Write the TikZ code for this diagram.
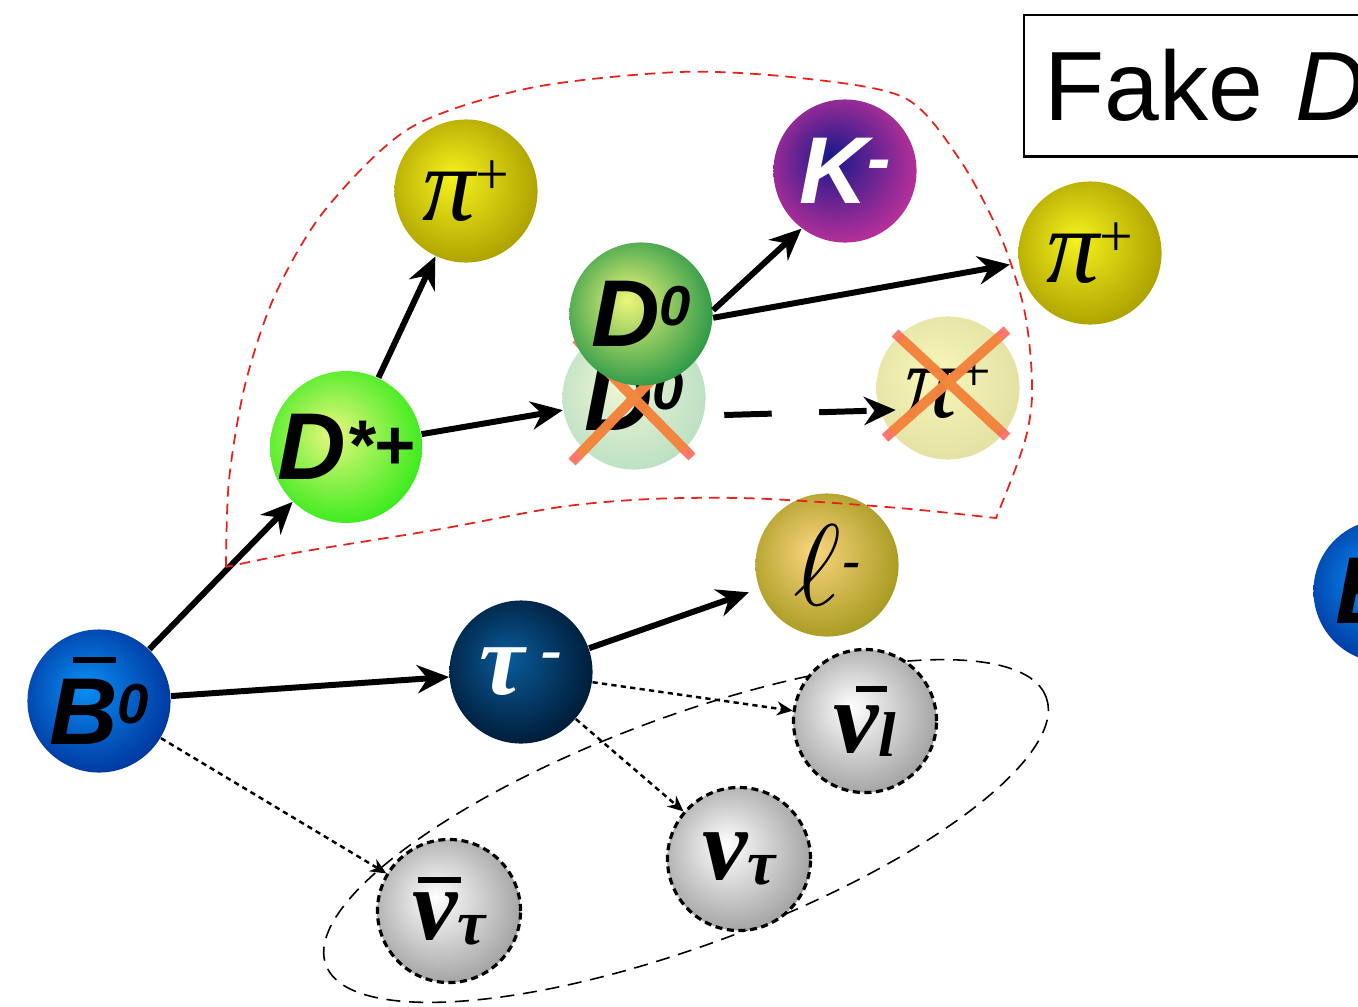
\documentclass[tikz,border=0pt]{standalone}
\usepackage{fix-cm}
\usepackage{fontspec}
\setmainfont{Liberation Sans}
\newfontfamily\greekserif{Liberation Serif}
\definecolor{bmin}{HTML}{0A8FF5}
\definecolor{bmout}{HTML}{0038A0}
\definecolor{dsin}{HTML}{E8F77E}
\definecolor{dsout}{HTML}{3CEB1E}
\definecolor{piin}{HTML}{F5F21E}
\definecolor{piout}{HTML}{ADA200}
\definecolor{d0in}{HTML}{EEF57A}
\definecolor{d0out}{HTML}{2E9A48}
\definecolor{kin}{HTML}{17188A}
\definecolor{kout}{HTML}{B8309A}
\definecolor{lin}{HTML}{FAD57E}
\definecolor{lout}{HTML}{A89B22}
\definecolor{tauin}{HTML}{0A5C9C}
\definecolor{tauout}{HTML}{001C38}
\definecolor{nugray}{HTML}{A3A3A3}
\definecolor{dfin}{HTML}{EFF6D2}
\definecolor{dfout}{HTML}{BCE0C4}
\definecolor{pfin}{HTML}{F8F6B8}
\definecolor{pfout}{HTML}{E4E1A4}
\definecolor{vetoorange}{HTML}{F28A3A}
\definecolor{vetored}{HTML}{FF5F50}
\definecolor{regionred}{HTML}{E8221A}
\usepackage{tikz}
\usetikzlibrary{arrows.meta, shapes.geometric}
\colorlet{ballin}{white}
\colorlet{ballout}{gray}
\pgfdeclareradialshading[ballin,ballout]{sphere}{\pgfqpoint{-5bp}{5bp}}{color(0bp)=(ballin); color(28bp)=(ballout); color(50bp)=(ballout)}
\newcommand{\supsym}[1]{\raisebox{6pt}{\fontsize{16}{16}\selectfont #1}}
\newcommand{\barsym}[3]{\rlap{\hspace{#1}\raisebox{#2}{\rule{#3}{0.06em}}}}

\begin{document}
\begin{tikzpicture}[
  x=0.01cm, y=-0.01cm,
  particle/.style 2 args={circle, minimum size=1.43cm, inner sep=0pt,
    /utils/exec={\colorlet{ballin}{#1}\colorlet{ballout}{#2}}, shading=sphere,
    font=\fontsize{27}{27}\selectfont\bfseries\itshape},
  neutrino/.style={particle={white}{nugray}, draw, line width=0.9pt, dash pattern=on 2pt off 1.3pt,
    font=\fontsize{29}{29}\selectfont\greekserif\bfseries\itshape},
  pionlabel/.style={font=\fontsize{30}{30}\selectfont\greekserif\itshape},
  decay/.style={line width=1.7pt, -{Stealth[length=9pt, width=8pt]}},
  missing/.style={line width=0.7pt, dash pattern=on 1.5pt off 1.2pt, -{Stealth[length=4.5pt, width=4pt]}},
  veto/.style={line width=2.8pt, vetoorange, opacity=0.85, shorten <=0.1cm, shorten >=0.1cm},
  vetoend/.style={line width=2.8pt, vetored, opacity=0.85},
  region/.style={regionred, line width=0.5pt, dash pattern=on 3pt off 2pt},
]
\useasboundingbox (0,0) rectangle (1358,1006);
\clip (0,0) rectangle (1358,1006);

% Neutrino group
\node[draw, ellipse, minimum width=7.68cm, minimum height=2.28cm, rotate=20.4, line width=0.45pt, dash pattern=on 4pt off 2.5pt] (nugroup) at (686,831) {};

% Particles
\node[particle={bmin}{bmout}] (b0) at (99,701) {\barsym{0.25em}{0.86em}{0.46em}B\supsym{0}};
\node[particle={bmin}{bmout}] (btag) at (1385,591) {B\supsym{0}};
\node[particle={dsin}{dsout}] (dstar) at (346,447) {D\raisebox{3pt}{\fontsize{20}{20}\selectfont*+}};
\node[particle={piin}{piout}, pionlabel] (pitop) at (466,191) {π\raisebox{7.5pt}{\fontsize{17}{17}\selectfont\upshape +}};
\node[particle={kin}{kout}, text=white] (kminus) at (845,171) {K\raisebox{6pt}{\fontsize{20}{20}\selectfont -}};
\node[particle={piin}{piout}, pionlabel] (piright) at (1090,253) {π\raisebox{7.5pt}{\fontsize{17}{17}\selectfont\upshape +}};
\node[particle={lin}{lout}] (lep) at (827,565) {\mdseries{\fontsize{33}{33}\selectfont$\ell$}\raisebox{7pt}{\fontsize{16}{16}\selectfont -}};
\node[particle={tauin}{tauout}, text=white] (tau) at (521,672) {{\fontsize{29}{29}\selectfont\greekserif τ}\,\raisebox{7pt}{\fontsize{18}{18}\selectfont\greekserif -}};
\node[neutrino] (nubarl) at (865,721) {\barsym{0.22em}{0.6em}{0.3em}ν\lower1pt\hbox{\fontsize{18}{18}\selectfont l}};
\node[neutrino] (nutau) at (739,859) {ν\lower1.5pt\hbox{\fontsize{18}{18}\selectfont τ}};
\node[neutrino] (nubartau) at (449,911) {\barsym{0.06em}{0.55em}{0.42em}ν\lower1.5pt\hbox{\fontsize{18}{18}\selectfont τ}};

% Fake candidates
\node[particle={dfin}{dfout}] (dfake) at (634,398) {D\supsym{0}};
\node[particle={pfin}{pfout}, pionlabel] (pifake) at (948,388) {π\raisebox{7.5pt}{\fontsize{17}{17}\selectfont\upshape +}};
\draw[vetoend] ([shift={(-62,64)}]dfake.center) -- ([shift={(62,-64)}]dfake.center);
\draw[vetoend] ([shift={(58,59)}]dfake.center) -- ([shift={(-58,-59)}]dfake.center);
\draw[veto] ([shift={(-62,64)}]dfake.center) -- ([shift={(62,-64)}]dfake.center);
\draw[veto] ([shift={(58,59)}]dfake.center) -- ([shift={(-58,-59)}]dfake.center);
\draw[vetoend] ([shift={(-63,50)}]pifake.center) -- ([shift={(59,-58)}]pifake.center);
\draw[vetoend] ([shift={(-53,-55)}]pifake.center) -- ([shift={(59,49)}]pifake.center);
\draw[veto] ([shift={(-63,50)}]pifake.center) -- ([shift={(59,-58)}]pifake.center);
\draw[veto] ([shift={(-53,-55)}]pifake.center) -- ([shift={(59,49)}]pifake.center);

\node[particle={d0in}{d0out}] (d0) at (641,314) {D\supsym{0}};

% Decays
\draw[decay] (b0) -- (dstar);
\draw[decay] (dstar) -- (pitop);
\draw[decay] (dstar) -- (dfake);
\draw[decay] (d0.3) -- (kminus.233);
\draw[decay, shorten >=2.5pt] (d0.-3) -- (piright.188);
\draw[decay, dash pattern=on 13.5pt off 13.5pt] ([xshift=0.18cm, yshift=-0.17cm]dfake.east) -- ([xshift=0.2cm, yshift=-0.22cm]pifake.west);
\draw[decay] (b0) -- (tau);
\draw[decay, shorten >=3pt] (tau) -- (lep);
\draw[missing] (b0) -- (nubartau);
\draw[missing] (tau) -- (nubarl);
\draw[missing] (tau) -- (nutau);

% Reconstructed D* region
\draw[region] plot[smooth] coordinates {(226,567) (229,480) (245,385) (275,295) (325,210) (410,128) (530,88) (680,72) (800,78) (905,98) (960,160) (1000,235) (1022,300) (1030,350) (1032,397) (1027,433) (1015,470) (996,518)}
  -- plot[smooth] coordinates {(996,518) (910,509) (820,502) (740,498) (650,499) (560,507) (435,530) (300,552) (226,567)} -- cycle;

% Label
\node[draw, line width=0.7pt, anchor=north west, minimum height=1.41cm, text width=4cm, inner xsep=0.2cm,
  font=\fontsize{28}{28}\selectfont] (fakelabel) at (1023,14) {Fake \textit{D}};
\end{tikzpicture}
\end{document}
